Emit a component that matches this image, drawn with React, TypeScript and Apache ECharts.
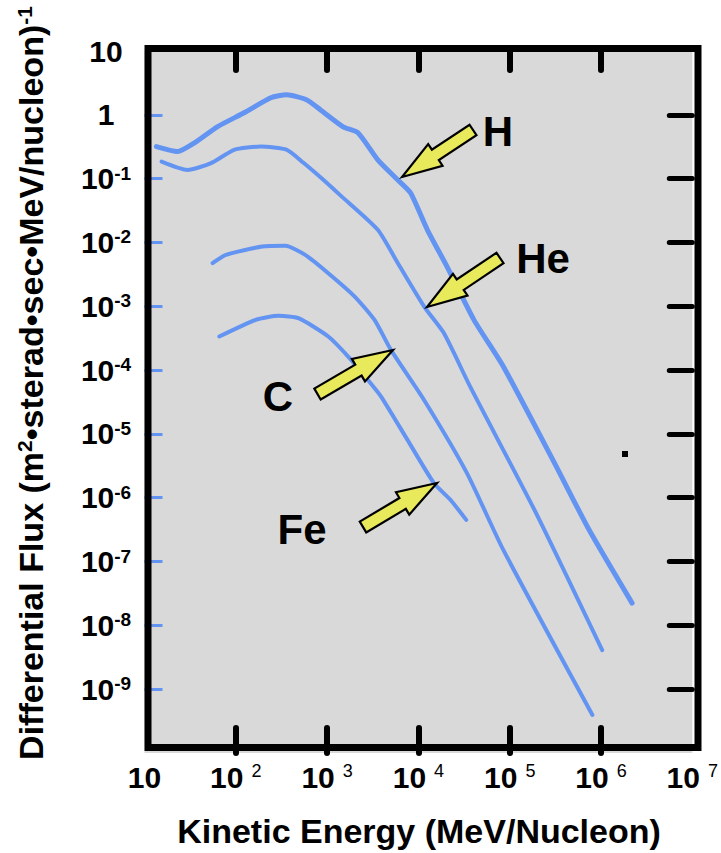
import React, { useEffect, useRef } from "react";
import * as echarts from "echarts";

// ---- data ----
const hEnergy = [13.5, 23.1, 35.3, 62.7, 123, 242, 360, 594, 843, 1497, 2178, 3590, 5920, 8190, 12530, 20650, 40550, 85100, 297000, 740000, 2190000];
const hFlux = [0.318, 0.266, 0.364, 0.649, 1.075, 1.85, 2.06, 1.72, 1.2, 0.649, 0.523, 0.197, 0.096, 0.06, 0.0158, 0.00415, 6.12e-4, 1.14e-4, 3.92e-6, 3.14e-7, 2.23e-8];

const heEnergy = [15.4, 29.6, 53.6, 95.9, 187, 363, 551, 908, 1380, 3590, 5920, 11610, 19000, 36900, 195000, 1030000];
const heFlux = [0.185, 0.137, 0.175, 0.283, 0.318, 0.283, 0.177, 0.096, 0.0557, 0.0158, 0.0048, 9.8e-4, 3.8e-4, 5.5e-5, 5.7e-7, 4.1e-9];

const cEnergy = [55.7, 78, 194.5, 349, 575, 1030, 2006, 3305, 5000, 11530, 34000, 85100, 805000];
const cFlux = [0.00474, 0.0064, 0.00863, 0.00885, 0.0064, 0.0033, 0.00142, 6.1e-4, 2.07e-4, 3.4e-5, 2.43e-6, 1.52e-7, 3.95e-10];

const feEnergy = [65.9, 165, 295, 486, 1030, 1700, 2800, 3900, 7590, 14800, 22400, 33400];
const feFlux = [3.36e-4, 6.12e-4, 7.08e-4, 6.5e-4, 3.36e-4, 1.63e-4, 7.0e-5, 3.85e-5, 8.07e-6, 1.69e-6, 9.3e-7, 4.5e-7];

const xLabelValues = [1e1, 1e2, 1e3, 1e4, 1e5, 1e6, 1e7];
const xTickValues = [1e2, 1e3, 1e4, 1e5, 1e6];
const yLabelValues = [10, 1, 1e-1, 1e-2, 1e-3, 1e-4, 1e-5, 1e-6, 1e-7, 1e-8, 1e-9];
const yTickValues = [1, 1e-1, 1e-2, 1e-3, 1e-4, 1e-5, 1e-6, 1e-7, 1e-8, 1e-9];

const speciesNames = ["H", "He", "C", "Fe"];
const xTitle = "Kinetic Energy (MeV/Nucleon)";
const yTitleMain = "Differential Flux (m";
const yTitleMid = "•sterad•sec•MeV/nucleon)";

const FONT = "'Liberation Sans', Arial, sans-serif";
const BLUE = "#6394f2";
const YELLOW = "#e9e95c";

function zip(xs: number[], ys: number[]) {
  return xs.map((x, i) => [x, ys[i]]);
}

function arrow(tx: number, ty: number, sx: number, sy: number) {
  const dx = sx - tx, dy = sy - ty;
  const L = Math.hypot(dx, dy);
  const ux = dx / L, uy = dy / L;
  const px = -uy, py = ux;
  const headL = 40, headW = 13, shaftW = 6.3, barbBack = 0;
  const p = (a: number, b: number) => [tx + ux * a + px * b, ty + uy * a + py * b];
  return [
    p(0, 0),
    p(headL, headW),
    p(headL - barbBack, shaftW),
    p(L, shaftW),
    p(L, -shaftW),
    p(headL - barbBack, -shaftW),
    p(headL, -headW),
  ];
}

export default function App() {
  const ref = useRef<HTMLDivElement>(null);
  useEffect(() => {
    if (!ref.current) return;
    const chart = echarts.init(ref.current, null, { renderer: "svg" });
    const big = { fontSize: 30, fontWeight: "bold", fontFamily: FONT, color: "#000" };
    const yFmt = (v: number) => {
      const e = Math.round(Math.log10(v));
      if (e === 1) return "{b|10}";
      if (e === 0) return "{b|1}";
      return "{b|10}{s|" + e + "}";
    };
    const xFmt = (v: number) => {
      const e = Math.round(Math.log10(v));
      if (e === 1) return "{b|10}";
      return "{b|10}{s|" + e + "}";
    };
    const mkSeries = (name: string, xs: number[], ys: number[], w: number) => ({
      name,
      type: "line",
      data: zip(xs, ys),
      showSymbol: false,
      smooth: 0.2,
      lineStyle: { color: BLUE, width: w, cap: "round", join: "round" },
      z: 5,
    });
    const arrows = [
      arrow(402, 177, 473, 130),
      arrow(427, 307, 500, 258),
      arrow(393, 350, 317.5, 394),
      arrow(437, 483, 363, 527),
    ];
    const labelPos = [
      [498, 131],
      [543, 258],
      [278, 396],
      [302, 529],
    ];
    chart.setOption({
      animation: false,
      grid: {
        left: 144.5,
        right: 23,
        top: 51,
        bottom: 100,
        show: true,
        backgroundColor: "#d9d9d9",
        borderWidth: 0,
      },
      xAxis: [
        {
          type: "log",
          logBase: 10,
          min: 10,
          max: 1e7,
          position: "bottom",
          axisLine: { show: false },
          splitLine: { show: false },
          axisTick: {
            inside: true,
            length: 25,
            customValues: xTickValues,
            lineStyle: { color: "#000", width: 6, cap: "round" },
          },
          axisLabel: {
            customValues: xLabelValues,
            margin: 9,
            formatter: xFmt,
            rich: {
              b: big,
              s: { fontSize: 18, fontFamily: FONT, color: "#000", verticalAlign: "top", padding: [0, 0, 0, 8] },
            },
          },
        },
        {
          type: "log",
          logBase: 10,
          min: 10,
          max: 1e7,
          position: "top",
          axisLine: { show: false },
          splitLine: { show: false },
          axisLabel: { show: false },
          axisTick: {
            inside: true,
            length: 19,
            customValues: xTickValues,
            lineStyle: { color: "#000", width: 6, cap: "round" },
          },
        },
      ],
      yAxis: [
        {
          type: "log",
          logBase: 10,
          min: 1e-10,
          max: 10,
          position: "left",
          axisLine: { show: false },
          splitLine: { show: false },
          axisTick: {
            inside: true,
            length: 18,
            customValues: yTickValues,
            lineStyle: { color: BLUE, width: 3 },
          },
          axisLabel: {
            customValues: yLabelValues,
            align: "center",
            margin: 38.5,
            formatter: yFmt,
            rich: {
              b: big,
              s: { fontSize: 19, fontWeight: "bold", fontFamily: FONT, color: "#000", verticalAlign: "top" },
            },
          },
        },
        {
          type: "log",
          logBase: 10,
          min: 1e-10,
          max: 10,
          position: "right",
          axisLine: { show: false },
          splitLine: { show: false },
          axisLabel: { show: false },
          axisTick: {
            inside: true,
            length: 23,
            customValues: yTickValues,
            lineStyle: { color: "#000", width: 5, cap: "round" },
          },
        },
      ],
      series: [
        mkSeries(speciesNames[0], hEnergy, hFlux, 5),
        mkSeries(speciesNames[1], heEnergy, heFlux, 4),
        mkSeries(speciesNames[2], cEnergy, cFlux, 4),
        mkSeries(speciesNames[3], feEnergy, feFlux, 4),
      ],
      graphic: [
        {
          type: "rect",
          z: 100,
          shape: { x: 148, y: 48.5, width: 550, height: 699 },
          style: { fill: "none", stroke: "#000", lineWidth: 7 },
        },
        {
          type: "rect",
          z: 100,
          shape: { x: 622, y: 451, width: 6, height: 6 },
          style: { fill: "#000" },
        },
        ...arrows.map((pts) => ({
          type: "polygon",
          z: 50,
          shape: { points: pts },
          style: { fill: YELLOW, stroke: "#000", lineWidth: 2.2, lineJoin: "miter" },
        })),
        ...labelPos.map((p, i) => ({
          type: "text",
          z: 60,
          x: p[0],
          y: p[1],
          style: {
            text: speciesNames[i],
            fontSize: 42,
            fontWeight: "bold",
            fontFamily: FONT,
            fill: "#000",
            align: "center",
            verticalAlign: "middle",
          },
        })),
        {
          type: "text",
          x: 419,
          y: 831,
          style: {
            text: xTitle,
            fontSize: 34,
            fontWeight: "bold",
            fontFamily: FONT,
            fill: "#000",
            align: "center",
            verticalAlign: "middle",
          },
        },
        {
          type: "text",
          x: 31,
          y: 383,
          rotation: Math.PI / 2,
          style: {
            text: "{a|" + yTitleMain + "}{s|2}{a|" + yTitleMid + "}{s|-1}",
            align: "center",
            verticalAlign: "middle",
            rich: {
              a: { fontSize: 34, fontWeight: "bold", fontFamily: FONT, fill: "#000", color: "#000" },
              s: { fontSize: 21, fontWeight: "bold", fontFamily: FONT, fill: "#000", color: "#000", verticalAlign: "top" },
            },
          },
        },
      ],
    });
    return () => chart.dispose();
  }, []);
  return <div ref={ref} style={{ position: "absolute", left: 0, top: 0, width: 721, height: 853 }} />;
}
